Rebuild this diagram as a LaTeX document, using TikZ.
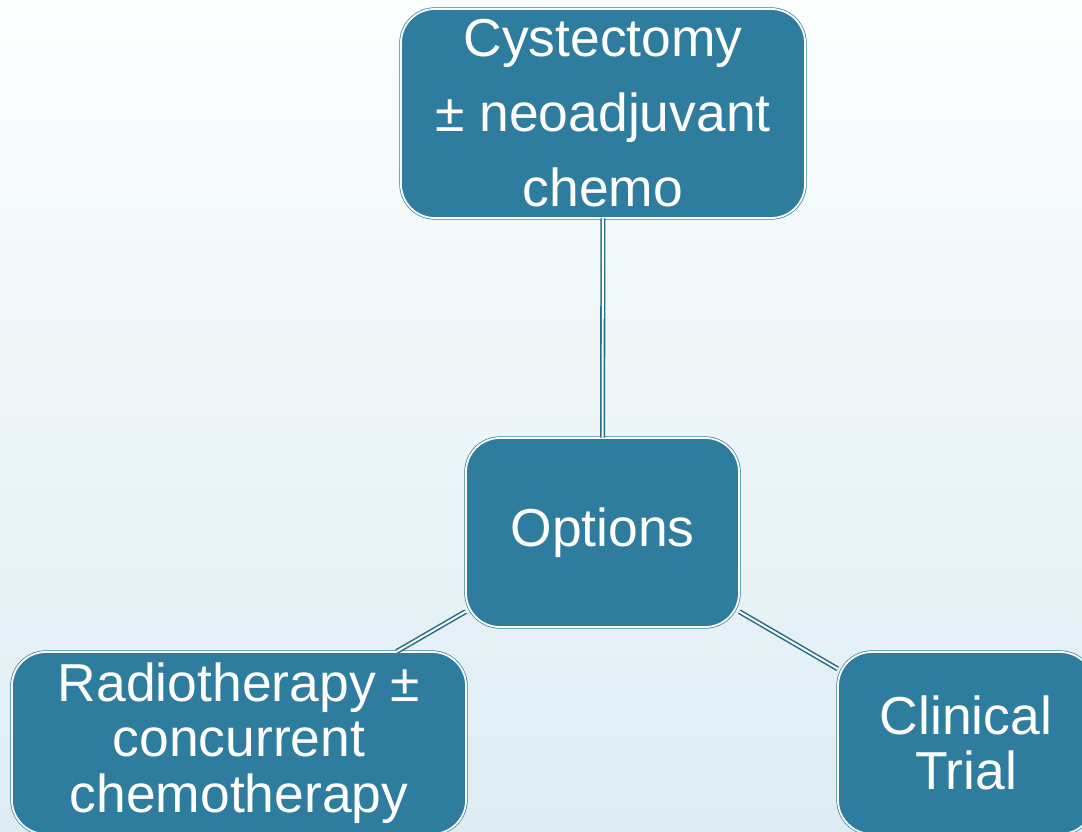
\documentclass[tikz,border=0pt]{standalone}
\usepackage{fontspec}
\setmainfont{Liberation Sans}
\usetikzlibrary{positioning}
\definecolor{boxteal}{RGB}{46,125,158}
\definecolor{linkteal}{RGB}{40,108,134}
\definecolor{bgtop}{RGB}{252,254,254}
\definecolor{bgmid}{RGB}{244,250,252}
\definecolor{bgbottom}{RGB}{222,237,243}

\begin{document}
\begin{tikzpicture}[x=0.025cm, y=-0.025cm,
    every node/.style={rounded corners=0.85cm, fill=boxteal, draw=boxteal,
        double=white, double distance=1.3pt, line width=0.5pt,
        text=white, align=center, inner sep=0pt},
    link/.style={draw=linkteal, double=white, double distance=1.4pt, line width=1.1pt}
]
\useasboundingbox (0,0) rectangle (1082,832);
\clip (0,0) rectangle (1082,832);
\shade[top color=bgtop, middle color=bgmid, bottom color=bgbottom] (0,0) rectangle (1082,832);
\node[minimum width=10.1cm, minimum height=5.225cm,
    font=\fontsize{38}{53.3}\selectfont] (cyst) at (603,113.5)
    {Cystectomy\\± neoadjuvant\\chemo};
\node[minimum width=6.825cm, minimum height=4.725cm,
    font=\fontsize{38}{44}\selectfont] (opt) at (602.5,532.5) {Options};
\node[minimum width=11.35cm, minimum height=4.55cm,
    font=\fontsize{38}{39.5}\selectfont] (radio) at (239,743)
    {Radiotherapy ±\\concurrent\\chemotherapy};
\node[minimum width=6.4cm, minimum height=4.55cm,
    font=\fontsize{38}{39.5}\selectfont] (trial) at (966,743)
    {Clinical\\Trial};
\draw[link] (cyst) -- (opt);
\draw[link] (opt) -- (radio);
\draw[link] (opt) -- (trial);
\end{tikzpicture}
\end{document}
